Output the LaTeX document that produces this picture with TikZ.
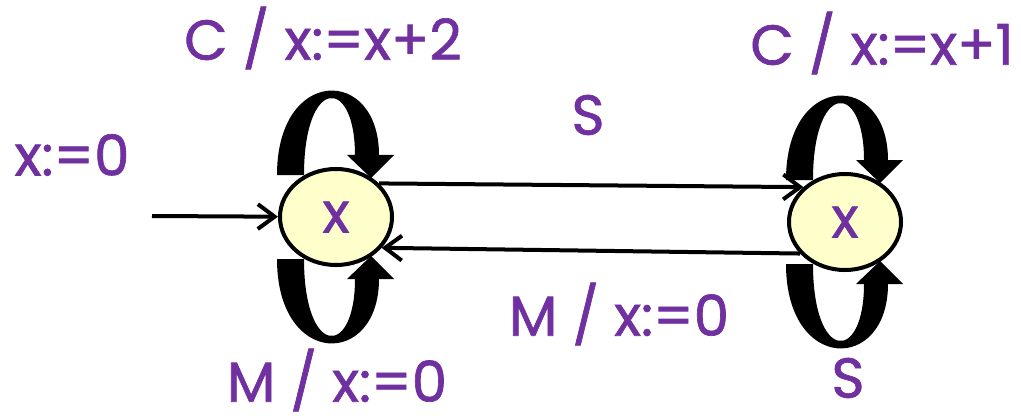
\documentclass[tikz,border=0pt]{standalone}
\usepackage{fontspec}
\setmainfont{Poppins}[FakeBold=1.2]
\usetikzlibrary{arrows.meta,shapes.geometric}
\definecolor{labelpurple}{RGB}{112,48,160}
\definecolor{stateyellow}{RGB}{255,255,204}

\begin{document}
\begin{tikzpicture}[x=0.025cm, y=-0.025cm,
        state/.style={ellipse, draw=black, line width=0.1cm, fill=stateyellow,
                   minimum width=2.8cm, minimum height=2.4cm, inner sep=0pt,
                   text=labelpurple, font=\fontsize{40}{44}\selectfont},
        lbl/.style={text=labelpurple, inner sep=0pt, font=\fontsize{40}{44}\selectfont},
        arrow/.style={-{Straight Barb[length=0.42cm,width=0.62cm]}, line width=0.1cm}
    ]
        \useasboundingbox (0,0) rectangle (1021,420);

        \node[state] (q0) at (336,217) {x};
        \node[state] (q1) at (845,222) {x};
        \coordinate (init) at (152,216);

        % self loops (block arrows round the states)
        \foreach \n/\s in {q0/1, q0/-1, q1/1, q1/-1}
            \fill[shift={(\n.center)}, yscale=\s]
                (-59,-42) .. controls (-59,-151) and (43,-151) .. (43,-62)
                -- (58,-62) -- (35,-39) -- (11,-62) -- (19,-62)
                .. controls (19,-141) and (-32,-141) .. (-32,-42) -- cycle;

        \node[lbl] (c0) at (323,38) {C / x:=x+2};
        \node[lbl] (c1) at (882,43) {C / x:=x+1};
        \node[lbl] (s01) at (588,115) {S};
        \node[lbl] (x0) at (72,155) {x:=0};
        \node[lbl] (m10) at (619,314) {M / x:=0};
        \node[lbl] (m0) at (337,380) {M / x:=0};
        \node[lbl] (s1) at (848,378) {S};

        \draw[arrow] (init) -- (q0);
        \draw[arrow] (q0.38) -- (q1.140);
        \draw[arrow] (q1.-145) -- (q0.-34);
    \end{tikzpicture}
\end{document}
